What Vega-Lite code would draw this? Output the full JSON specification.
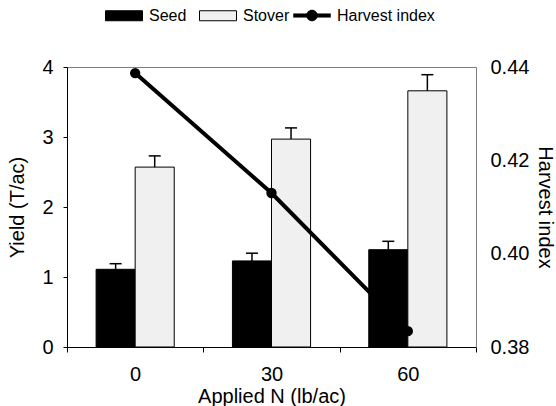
{
  "$schema": "https://vega.github.io/schema/vega-lite/v6.json",
  "width": 409,
  "height": 280,
  "autosize": "none",
  "padding": {"left": 67, "top": 67, "right": 80, "bottom": 59},
  "config": {
    "font": "Liberation Sans",
    "view": {"stroke": "#808080", "strokeWidth": 1},
    "axis": {
      "grid": false,
      "labelFont": "Liberation Sans",
      "titleFont": "Liberation Sans",
      "labelFontSize": 20,
      "titleFontSize": 20,
      "titleFontWeight": "normal",
      "labelColor": "#000000",
      "titleColor": "#000000",
      "domainColor": "#000000",
      "tickColor": "#000000"
    },
    "legend": {"labelFont": "Liberation Sans", "labelFontSize": 16, "labelColor": "#000000", "padding": 0}
  },
  "datasets": {
    "bars": [
      {"N": 0, "Part": "Seed", "Yield": 1.11, "Upper": 1.19},
      {"N": 0, "Part": "Stover", "Yield": 2.57, "Upper": 2.73},
      {"N": 30, "Part": "Seed", "Yield": 1.23, "Upper": 1.34},
      {"N": 30, "Part": "Stover", "Yield": 2.97, "Upper": 3.13},
      {"N": 60, "Part": "Seed", "Yield": 1.39, "Upper": 1.51},
      {"N": 60, "Part": "Stover", "Yield": 3.66, "Upper": 3.89}
    ],
    "hi": [
      {"N": 0, "HI": 0.4387},
      {"N": 30, "HI": 0.413},
      {"N": 60, "HI": 0.3834}
    ]
  },
  "layer": [
    {
      "data": {"name": "bars"},
      "encoding": {
        "x": {
          "field": "N",
          "type": "ordinal",
          "scale": {"paddingInner": 0, "paddingOuter": 0},
          "axis": {"title": "Applied N (lb/ac)", "labelAngle": 0, "tickBand": "extent", "tickSize": 5, "labelPadding": 12, "titlePadding": 2}
        },
        "xOffset": {"field": "Part", "type": "nominal", "scale": {"paddingInner": 0, "paddingOuter": 0.745}, "sort": ["Seed", "Stover"]}
      },
      "layer": [
        {
          "mark": {"type": "bar", "stroke": "#000000", "strokeWidth": 1},
          "encoding": {
            "y": {
              "field": "Yield",
              "type": "quantitative",
              "scale": {"domain": [0, 4]},
              "axis": {"title": "Yield (T/ac)", "values": [0, 1, 2, 3, 4], "format": "d", "tickSize": 4, "labelPadding": 10, "titlePadding": 14}
            },
            "color": {
              "field": "Part",
              "type": "nominal",
              "scale": {"domain": ["Seed", "Stover"], "range": ["#000000", "#f0f0f0"]},
              "legend": {
                "title": null,
                "orient": "none",
                "direction": "horizontal",
                "legendX": 38,
                "legendY": -62,
                "symbolSize": 400,
                "symbolType": "M-1,-0.5H2.7V0.5H-1Z",
                "symbolStrokeColor": "#000000",
                "symbolStrokeWidth": 1,
                "symbolOpacity": 1,
                "labelOffset": 23,
                "columnPadding": 10
              }
            }
          }
        },
        {
          "mark": {"type": "rule", "color": "#000000", "strokeWidth": 1.5},
          "encoding": {
            "y": {"field": "Yield", "type": "quantitative"},
            "y2": {"field": "Upper"}
          }
        },
        {
          "mark": {"type": "tick", "color": "#000000", "size": 12, "thickness": 1.5, "opacity": 1},
          "encoding": {
            "y": {"field": "Upper", "type": "quantitative"}
          }
        }
      ]
    },
    {
      "data": {"name": "hi"},
      "mark": {"type": "line", "color": "#000000", "strokeWidth": 4, "point": {"filled": true, "size": 70, "opacity": 1, "color": "#000000"}},
      "encoding": {
        "x": {"field": "N", "type": "ordinal"},
        "y": {
          "field": "HI",
          "type": "quantitative",
          "scale": {"domain": [0.38, 0.44], "zero": false},
          "axis": {"orient": "right", "title": "Harvest index", "values": [0.38, 0.40, 0.42, 0.44], "format": ".2f", "ticks": false, "tickSize": 0, "labelPadding": 14, "titlePadding": 6, "domainColor": "#808080"}
        },
        "stroke": {
          "datum": "Harvest index",
          "type": "nominal",
          "scale": {"range": ["#000000"]},
          "legend": {
            "title": null,
            "orient": "none",
            "direction": "horizontal",
            "legendX": 226,
            "legendY": -62,
            "symbolSize": 400,
            "symbolType": "M-1,-0.18H2.7V0.18H-1Z M0.3,0A0.55,0.55 0 1,1 1.4,0A0.55,0.55 0 1,1 0.3,0Z",
            "symbolFillColor": "#000000",
            "symbolStrokeColor": "#000000",
            "symbolStrokeWidth": 0.5,
            "symbolOpacity": 1,
            "labelOffset": 23
          }
        }
      }
    }
  ],
  "resolve": {"scale": {"y": "independent"}}
}
